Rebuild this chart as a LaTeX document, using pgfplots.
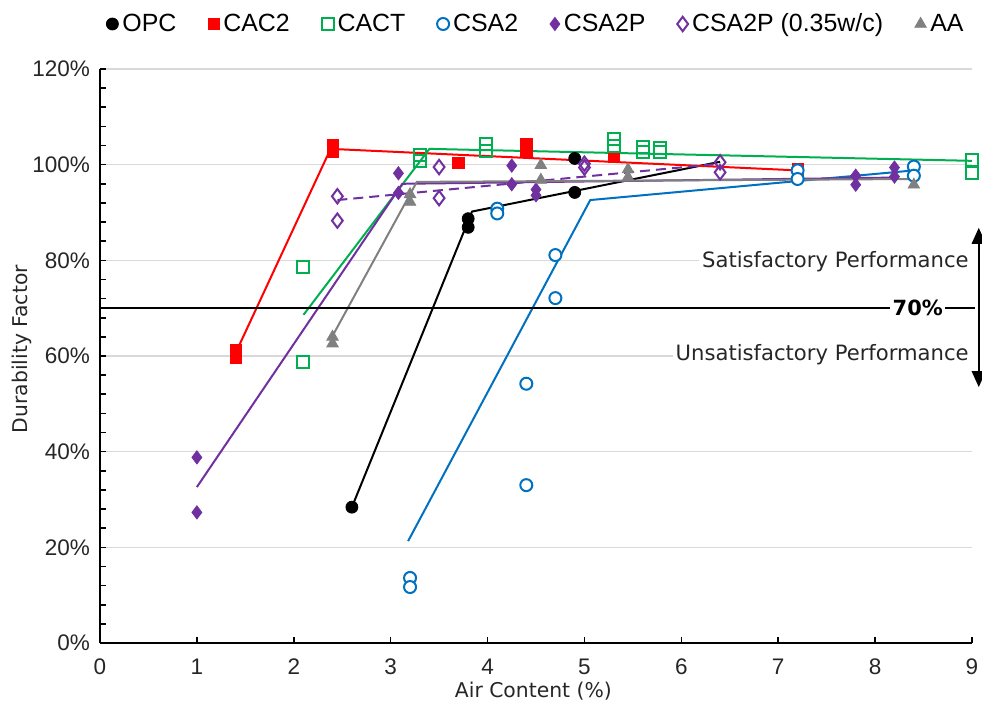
\documentclass[border=0pt]{standalone}
\usepackage{pgfplots}
\pgfplotsset{compat=1.18}
\usepackage{fontspec}
\setmainfont{Liberation Sans}
\newfontfamily\verdana{DejaVu Sans}
\usetikzlibrary{arrows.meta}
\definecolor{cRed}{HTML}{FF0000}
\definecolor{cGreen}{HTML}{00B050}
\definecolor{cBlue}{HTML}{0070C0}
\definecolor{cPurple}{HTML}{7030A0}
\definecolor{cGray}{HTML}{808080}
\definecolor{cText}{HTML}{262626}
\definecolor{cGrid}{HTML}{D9D9D9}

\pgfplotstableread{
x y
2.6 28.4
3.8 88.7
3.8 86.9
4.9 101.3
4.9 94.2
}\opc
\pgfplotstableread{
x y
1.4 61.2
1.4 59.6
2.4 104.1
2.4 102.7
3.7 100.4
4.4 104.3
4.4 102.7
5.3 101.7
7.2 99.0
}\cac
\pgfplotstableread{
x y
2.1 78.6
2.1 58.7
3.3 102.0
3.3 100.8
3.98 104.3
3.98 102.8
5.3 105.3
5.3 104.0
5.6 103.6
5.6 102.7
5.78 103.5
5.78 102.6
9.0 101.0
9.0 98.3
}\cact
\pgfplotstableread{
x y
3.2 13.6
3.2 11.7
4.1 90.8
4.1 89.8
4.4 54.2
4.4 33.0
4.7 81.1
4.7 72.1
7.2 98.8
7.2 97.0
8.4 99.6
8.4 97.7
}\csa
\pgfplotstableread{
x y
1.0 38.8
1.0 27.3
3.08 98.2
3.08 94.1
4.25 99.8
4.25 95.9
4.5 94.8
4.5 93.6
7.8 97.7
7.8 95.8
8.2 99.4
8.2 97.5
}\csap
\pgfplotstableread{
x y
2.45 93.4
2.45 88.3
3.5 99.5
3.5 93.0
5.0 100.2
5.0 99.4
6.4 100.5
6.4 98.4
}\csapw
\pgfplotstableread{
x y
2.4 64.0
2.4 62.6
3.2 93.8
3.2 92.2
4.55 99.9
4.55 96.8
5.45 99.0
5.45 97.4
8.4 95.8
}\aa

\begin{document}
\begin{tikzpicture}
\begin{axis}[
  scale only axis, width=436bp, height=287bp,
  xmin=0, xmax=9, ymin=0, ymax=120,
  clip=false,
  axis lines=left,
  axis line style={-, line width=1bp, black},
  xtick={0,...,9}, ytick={0,20,...,120},
  minor y tick num=4,
  tick align=inside,
  major tick length=3bp, minor tick length=3bp,
  tick style={line width=0.8bp, black},
  ymajorgrids, grid style={line width=0.8bp, cGrid},
  /pgf/number format/assume math mode=true,
  yticklabel={\pgfmathprintnumber{\tick}\%},
  ticklabel style={font=\fontsize{11.3}{13}\selectfont, text=cText},
  xticklabel style={anchor=base, yshift=-15.5bp},
  yticklabel style={xshift=-1.5bp},
  xlabel={Air Content (\%)},
  ylabel={Durability Factor},
  label style={font=\verdana\fontsize{10.2}{12}\selectfont, text=cText},
  xlabel style={at={(axis description cs:0.497,0)}, anchor=base, yshift=-27bp},
  ylabel style={at={(axis description cs:-0.0826,0.512)}, anchor=base},
  legend columns=-1,
  legend style={at={(axis description cs:0,1)}, anchor=west, xshift=3bp, yshift=22.5bp,
    draw=none, fill=none, inner sep=0pt,
    font=\fontsize{12.5}{15}\selectfont, text=black,
    /tikz/every even column/.append style={column sep=13.9bp}},
  legend image code/.code={\draw[mark repeat=2,mark phase=2] plot coordinates {(0bp,0bp)(2.8bp,0bp)(5.6bp,0bp)};},
]
% fitted lines
\addplot[forget plot, black, line width=1bp] coordinates {(2.6,28.4) (3.84,90.2) (6.4,100.6)};
\addplot[forget plot, cRed, line width=1bp] coordinates {(1.42,61.5) (2.38,103.3) (7.2,98.8)};
\addplot[forget plot, cGreen, line width=1bp] coordinates {(2.1,68.6) (3.4,103.3) (9.0,100.8)};
\addplot[forget plot, cBlue, line width=1bp] coordinates {(3.18,21.3) (5.06,92.6) (8.4,98.8)};
\addplot[forget plot, cPurple, line width=1bp] coordinates {(1.0,32.6) (3.12,96.0) (8.2,97.3)};
\addplot[forget plot, cPurple, line width=1bp, dash pattern=on 5bp off 3bp] coordinates {(2.45,92.6) (6.4,100.2)};
\addplot[forget plot, cGray, line width=1bp] coordinates {(2.4,64.2) (3.27,96.4) (8.4,97.0)};
% markers
\addplot[only marks, mark=*, mark size=3bp, mark options={fill=black, draw=black}] table {\opc};
\addlegendentry{OPC}
\addplot[only marks, mark=square*, mark size=2.8bp, mark options={fill=cRed, draw=cRed}] table {\cac};
\addlegendentry{CAC2}
\addplot[only marks, mark=square, mark size=3bp, mark options={draw=cGreen, fill=white, line width=1bp}] table {\cact};
\addlegendentry{CACT}
\addplot[only marks, mark=*, mark size=3bp, mark options={draw=cBlue, fill=white, line width=1bp}] table {\csa};
\addlegendentry{CSA2}
\addplot[only marks, mark=diamond*, mark size=3.3bp, mark options={fill=cPurple, draw=cPurple}] table {\csap};
\addlegendentry{CSA2P}
\addplot[only marks, mark=diamond, mark size=3.6bp, mark options={draw=cPurple, line width=1bp}] table {\csapw};
\addlegendentry{CSA2P (0.35w/c)}
\addplot[only marks, mark=triangle*, mark size=3.3bp, mark options={fill=cGray, draw=cGray}] table {\aa};
\addlegendentry{AA}
% annotations
\draw[line width=1bp, black] (axis cs:0,70) -- (axis cs:9.03,70);
\node[fill=white, inner xsep=1.2bp, inner ysep=1bp, font=\verdana\bfseries\fontsize{10.5}{12}\selectfont, text=black] at (axis cs:8.44,70) {70\%};
\node[fill=white, anchor=east, inner sep=1.5bp, font=\verdana\fontsize{10.6}{12}\selectfont, text=cText] at (axis cs:9.0,79.7) {Satisfactory Performance};
\node[fill=white, anchor=east, inner sep=1.5bp, font=\verdana\fontsize{10.6}{12}\selectfont, text=cText] at (axis cs:9.0,60.2) {Unsatisfactory Performance};
\draw[{Triangle[width=7bp,length=8bp]}-{Triangle[width=7bp,length=8bp]}, line width=0.9bp, black] (axis cs:9.07,53.5) -- (axis cs:9.07,86.8);
\end{axis}
\pgfresetboundingbox
\path[use as bounding box] (-50bp,-35bp) rectangle (441bp,321.5bp);
\end{tikzpicture}
\end{document}
